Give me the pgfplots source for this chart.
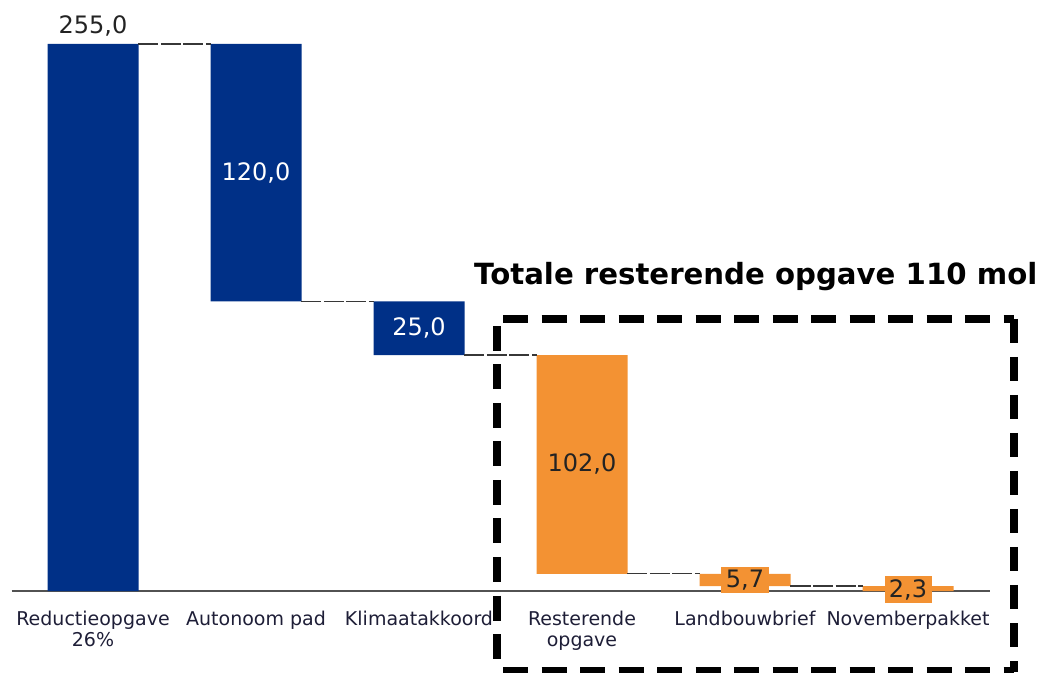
\documentclass[border=0pt]{standalone}
\usepackage{pgfplots}
\pgfplotsset{compat=1.18}
\usepackage{fontspec}
\setmainfont{DejaVu Sans}
\definecolor{navy}{RGB}{0,48,135}
\definecolor{oranje}{RGB}{243,146,51}
\definecolor{cattxt}{RGB}{30,30,55}
\definecolor{valtxt}{RGB}{35,35,35}
\definecolor{conn}{RGB}{55,55,55}
\begin{document}
\begin{tikzpicture}[x=1pt,y=1pt]
\begin{axis}[
  at={(11.5pt,81pt)}, anchor=south west,
  scale only axis, width=978pt, height=547pt,
  xmin=-0.5, xmax=5.5, ymin=0, ymax=255,
  clip=false,
  axis x line*=bottom, axis y line=none,
  x axis line style={-, line width=1.8pt, draw=black!68},
  ytick=\empty,
  xtick={0,1,2,3,4,5},
  xticklabels={{Reductieopgave\\26\%},{Autonoom pad},{Klimaatakkoord},{Resterende\\opgave},{Landbouwbrief},{Novemberpakket}},
  major tick length=0pt,
  xticklabel style={align=center, font=\fontsize{19}{21}\selectfont, text=cattxt, inner sep=0pt, yshift=-20pt},
  ybar stacked, bar width=91pt,
]
\addplot[draw=none, fill=none] coordinates {(0,0) (1,135) (2,110) (3,8) (4,2.3) (5,0)};
\addplot[draw=none, fill=navy] coordinates {(0,255) (1,120) (2,25) (3,0) (4,0) (5,0)};
\addplot[draw=none, fill=oranje] coordinates {(0,0) (1,0) (2,0) (3,102) (4,5.7) (5,2.3)};
\end{axis}
\begin{axis}[
  at={(11.5pt,81pt)}, anchor=south west,
  scale only axis, width=978pt, height=547pt,
  xmin=-0.5, xmax=5.5, ymin=0, ymax=255,
  clip=false, hide axis,
]
\addplot[conn, line width=1.2pt, dash pattern=on 20pt off 2.5pt] coordinates {(0.2791,255) (0.7209,255)};
\addplot[conn, line width=1.2pt, dash pattern=on 20pt off 2.5pt] coordinates {(1.2791,135) (1.7209,135)};
\addplot[conn, line width=1.2pt, dash pattern=on 20pt off 2.5pt] coordinates {(2.2791,110) (2.7209,110)};
\addplot[conn, line width=1.2pt, dash pattern=on 20pt off 2.5pt] coordinates {(3.2791,8) (3.7209,8)};
\addplot[conn, line width=1.2pt, dash pattern=on 20pt off 2.5pt] coordinates {(4.2791,2.3) (4.7209,2.3)};
\node[anchor=base, text=valtxt, font=\fontsize{24}{26}\selectfont, inner sep=0pt, yshift=10pt] at (axis cs:0,255) {255,0};
\node[text=white, font=\fontsize{24}{26}\selectfont] at (axis cs:1,195) {120,0};
\node[text=white, font=\fontsize{24}{26}\selectfont] at (axis cs:2,122.5) {25,0};
\node[text=valtxt, font=\fontsize{24}{26}\selectfont] at (axis cs:3,59) {102,0};
\node[text=valtxt, fill=oranje, font=\fontsize{24}{26}\selectfont, inner sep=0pt, minimum width=48pt, minimum height=26pt] at (axis cs:4,5.15) {5,7};
\node[text=valtxt, fill=oranje, font=\fontsize{24}{26}\selectfont, inner sep=0pt, minimum width=47pt, minimum height=27pt] at (axis cs:5,0.7) {2,3};
\end{axis}
\node[anchor=base west, inner sep=0pt, font=\fontsize{29.2}{31}\selectfont\bfseries, text=black] at (474,387) {Totale resterende opgave 110 mol};
\draw[black, line width=7.5pt, dash pattern=on 25pt off 13.5pt, dash phase=31.5pt] (497,353) -- (497,0);
\draw[black, line width=7.5pt, dash pattern=on 25pt off 13.5pt, dash phase=32.5pt] (497,353) -- (1014,353);
\draw[black, line width=7.5pt, dash pattern=on 24pt off 14pt] (1014,353) -- (1014,0);
\draw[black, line width=7.5pt, dash pattern=on 25pt off 13.5pt, dash phase=32.5pt] (497,1) -- (1014,1);
\pgfresetboundingbox
\useasboundingbox (0,0) rectangle (1041,672);
\end{tikzpicture}
\end{document}
